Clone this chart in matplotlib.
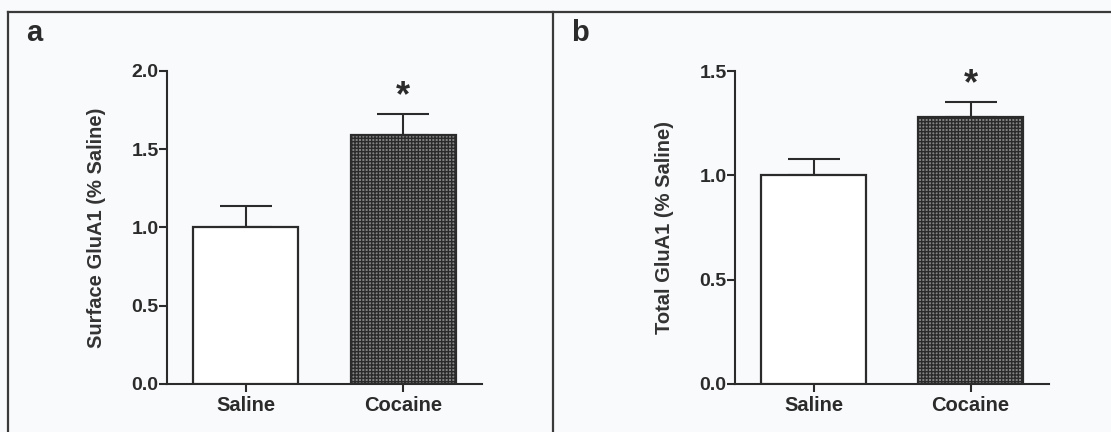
import numpy as np
import matplotlib
matplotlib.use('Agg')
from matplotlib import pyplot as plt
from matplotlib.lines import Line2D

categories = ['Saline', 'Cocaine']
surface_mean = [1.0, 1.59]
surface_sem = [0.135, 0.136]
total_mean = [1.0, 1.28]
total_sem = [0.076, 0.07]

plt.rcParams['font.family'] = ['Liberation Sans', 'DejaVu Sans']
plt.rcParams['font.weight'] = 'bold'
plt.rcParams['axes.labelweight'] = 'bold'
plt.rcParams['hatch.linewidth'] = 1.0

bg = '#f9fafc'
ink = '#2b2b2b'
W, H = 1111, 432

fig = plt.figure(figsize=(W / 100, H / 100), dpi=100, facecolor=bg)


def panel(px_left, px_right, px_top, px_bottom, means, sems, ymax, ylabel,
          letter, letter_x, label_x):
    ax = fig.add_axes([px_left / W, 1 - px_bottom / H,
                       (px_right - px_left) / W, (px_bottom - px_top) / H])
    ax.set_facecolor(bg)
    x = np.arange(len(categories))
    bars = ax.bar(x, means, width=0.665, color=['white', '#858585'],
                  edgecolor=ink, linewidth=1.6, zorder=3)
    bars[1].set_hatch('+++++')
    ax.errorbar(x, means, yerr=[np.zeros(len(sems)), sems], fmt='none',
                ecolor=ink, elinewidth=1.5, capsize=19, capthick=1.5, zorder=2)
    ax.annotate('*', xy=(x[1], means[1] + sems[1]), xytext=(0, 5.5),
                textcoords='offset points', ha='center', va='baseline',
                fontsize=26, color=ink)
    ticks = np.arange(0, ymax + 0.01, 0.5)
    ax.set_xlim(-0.5, 1.5)
    ax.set_ylim(0, ymax)
    ax.set_yticks(ticks)
    ax.set_yticklabels(['%.1f' % v for v in ticks])
    ax.set_xticks(x)
    ax.set_xticklabels(categories)
    for s in ['top', 'right']:
        ax.spines[s].set_visible(False)
    for s in ['left', 'bottom']:
        ax.spines[s].set_linewidth(1.5)
        ax.spines[s].set_color(ink)
    ax.tick_params(axis='both', length=5.5, width=1.5, color=ink,
                   labelsize=14, labelcolor=ink)
    ax.tick_params(axis='y', pad=0.5)
    ax.tick_params(axis='x', labelsize=14.5, pad=3)
    ax.set_ylabel(ylabel, fontsize=14.5, color='#333333')
    ax.yaxis.set_label_coords((label_x - px_left) / (px_right - px_left), 0.5)
    ax.yaxis.label.set_va('center')
    fig.text(letter_x / W, 1 - 33 / H, letter, fontsize=21, fontweight='bold',
             color=ink, ha='center', va='center')
    return ax


panel(167, 482, 71, 384, surface_mean, surface_sem, 2.0,
      'Surface GluA1 (% Saline)', 'a', 34, 97)
panel(735, 1049, 71, 384, total_mean, total_sem, 1.5,
      'Total GluA1 (% Saline)', 'b', 580, 664)

# outer frame of the figure panels
top = 1 - 12 / H
frame = '#3a3a3a'
fig.add_artist(Line2D([8 / W, 1], [top, top], color=frame, lw=1.6))
fig.add_artist(Line2D([8 / W, 8 / W], [0, top], color=frame, lw=1.6))
fig.add_artist(Line2D([553 / W, 553 / W], [0, top], color=frame, lw=1.6))

fig.savefig('out.png', dpi=100, facecolor=bg)
